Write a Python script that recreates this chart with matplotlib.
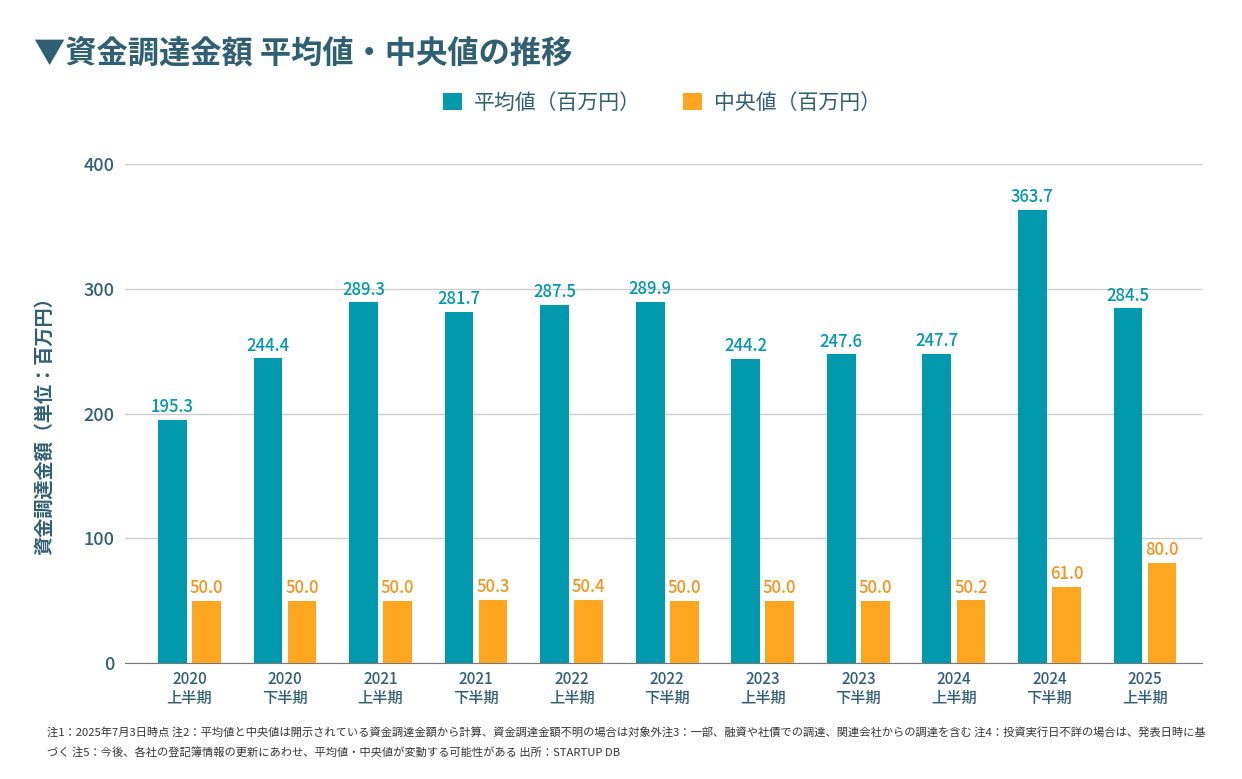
import matplotlib
matplotlib.use('Agg')
import matplotlib.pyplot as plt
import numpy as np

plt.rcParams['font.family'] = ['Noto Sans CJK JP', 'DejaVu Sans']

# データ
years = ['2020', '2020', '2021', '2021', '2022', '2022', '2023', '2023', '2024', '2024', '2025']
halves = ['上半期', '下半期', '上半期', '下半期', '上半期', '下半期', '上半期', '下半期', '上半期', '下半期', '上半期']
mean_values = [195.3, 244.4, 289.3, 281.7, 287.5, 289.9, 244.2, 247.6, 247.7, 363.7, 284.5]
median_values = [50.0, 50.0, 50.0, 50.3, 50.4, 50.0, 50.0, 50.0, 50.2, 61.0, 80.0]
yticks = [0, 100, 200, 300, 400]

teal = '#0099ae'
orange = '#ffa620'
orange_text = '#f7931e'
slate = '#2f5f73'

fig = plt.figure(figsize=(12.42, 7.79), dpi=100)
ax = fig.add_axes([0.101, 0.149, 0.867, 0.640])

x = np.arange(len(years))
w = 0.30
off = 0.178
b1 = ax.bar(x - off, mean_values, w, color=teal, label='平均値（百万円）')
b2 = ax.bar(x + off, median_values, w, color=orange, label='中央値（百万円）')

for xi, v in zip(x, mean_values):
    ax.text(xi - off, v + 3, f'{v:.1f}', ha='center', va='bottom', fontsize=12,
            color=teal, fontweight='medium', clip_on=False)
for xi, v in zip(x, median_values):
    ax.text(xi + off, v + 3, f'{v:.1f}', ha='center', va='bottom', fontsize=12,
            color=orange_text, fontweight='medium', clip_on=False)

ax.set_xlim(-0.67, 10.6)
ax.set_ylim(0, 400)
ax.set_yticks(yticks)
ax.set_yticklabels([str(t) for t in yticks], fontsize=13, color=slate, fontweight='medium')
ax.set_xticks(x)
ax.set_xticklabels([f'{y}\n{h}' for y, h in zip(years, halves)], fontsize=11,
                   color=slate, fontweight='medium', linespacing=1.15)
ax.tick_params(axis='both', length=0, pad=8)
ax.tick_params(axis='x', pad=6)

ax.grid(axis='y', color='#cccccc', linewidth=1)
ax.set_axisbelow(True)
for s in ['top', 'right', 'left']:
    ax.spines[s].set_visible(False)
ax.spines['bottom'].set_color('#777777')

ax.set_ylabel('資金調達金額（単位：百万円）', fontsize=13.8, color=slate, fontweight='bold', labelpad=14)
ax.yaxis.set_label_coords(-0.066, 0.485)

fig.text(0.027, 0.930, '▼資金調達金額 平均値・中央値の推移', fontsize=22.5, fontweight='bold',
         color=slate, va='center', ha='left')

fig.legend(handles=[b1, b2], loc='center', bbox_to_anchor=(0.533, 0.868), ncol=2,
           frameon=False, fontsize=15, handlelength=0.9, handleheight=0.9,
           columnspacing=2.0, handletextpad=0.6, labelcolor=slate)

note1 = ('注1：2025年7月3日時点 注2：平均値と中央値は開示されている資金調達金額から計算、資金調達金額不明の場合は対象外'
         '注3：一部、融資や社債での調達、関連会社からの調達を含む 注4：投資実行日不詳の場合は、発表日時に基')
note2 = 'づく 注5：今後、各社の登記簿情報の更新にあわせ、平均値・中央値が変動する可能性がある 出所：STARTUP DB'
fig.text(0.038, 0.060, note1, fontsize=8.1, color='#333333', va='center', ha='left')
fig.text(0.038, 0.034, note2, fontsize=8.1, color='#333333', va='center', ha='left')

fig.savefig('out.png', dpi=100, facecolor='white')
